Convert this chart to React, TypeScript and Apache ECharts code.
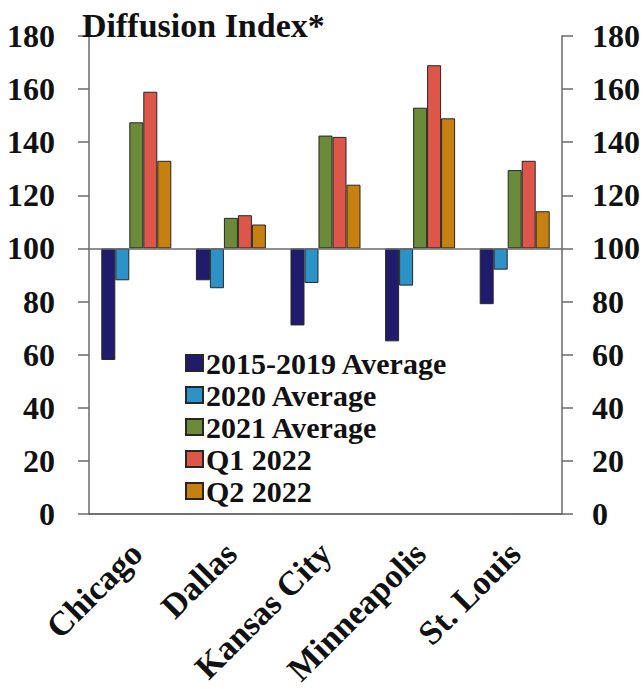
import React, { useEffect, useRef } from "react";
import * as echarts from "echarts";

const cities = ["Chicago", "Dallas", "Kansas City", "Minneapolis", "St. Louis"];
const seriesNames = ["2015-2019 Average", "2020 Average", "2021 Average", "Q1 2022", "Q2 2022"];
const avg2015_2019 = [58, 88, 71, 65, 79];
const avg2020 = [88, 85, 87, 86, 92];
const avg2021 = [147.5, 111.5, 142.5, 153, 129.5];
const q1_2022 = [159, 112.5, 142, 169, 133];
const q2_2022 = [133, 109, 124, 149, 114];
const yTicks = [0, 20, 40, 60, 80, 100, 120, 140, 160, 180];
const baseline = 100;

const colors = ["#201b6c", "#2b93c8", "#6b8b3a", "#dc574a", "#c5800f"];
const FONT = "Liberation Serif, serif";
const AXIS_COLOR = "#6a6a6a";

export default function App() {
  const ref = useRef<HTMLDivElement>(null);
  useEffect(() => {
    if (!ref.current) return;
    const chart = echarts.init(ref.current, undefined, { renderer: "svg" });
    const allSeries = [avg2015_2019, avg2020, avg2021, q1_2022, q2_2022];
    const series: any[] = [];
    allSeries.forEach((vals, i) => {
      const stack = "s" + i;
      series.push({
        name: "base" + i,
        type: "bar",
        stack,
        silent: true,
        itemStyle: { color: "transparent", borderWidth: 0 },
        data: vals.map((v) => (v < baseline ? v : baseline)),
      });
      const s: any = {
        name: seriesNames[i],
        type: "bar",
        stack,
        barCategoryGap: "26%",
        barGap: "0%",
        itemStyle: { color: colors[i], borderColor: "#262626", borderWidth: 1 },
        data: vals.map((v) => Math.abs(v - baseline)),
      };
      if (i === 0) {
        s.markLine = {
          silent: true,
          symbol: ["none", "none"],
          label: { show: false },
          lineStyle: { color: AXIS_COLOR, type: "solid", width: 1.5 },
          data: [{ yAxis: baseline }],
        };
      }
      series.push(s);
    });

    const yAxisCommon = {
      type: "value",
      min: yTicks[0],
      max: yTicks[yTicks.length - 1],
      interval: yTicks[1] - yTicks[0],
      splitLine: { show: false },
      axisLine: { show: true, lineStyle: { color: AXIS_COLOR, width: 1.5 } },
      axisTick: { show: true, inside: false, length: 11, lineStyle: { color: AXIS_COLOR, width: 1.5 } },
    };

    chart.setOption({
      animation: false,
      backgroundColor: "#ffffff",
      title: {
        text: "Diffusion Index*",
        left: 77,
        top: 3,
        textStyle: { fontFamily: FONT, fontWeight: "bold", fontSize: 34, color: "#111" },
      },
      legend: {
        data: seriesNames,
        orient: "vertical",
        left: 180,
        top: 343,
        icon: "rect",
        itemWidth: 17,
        itemHeight: 16,
        itemGap: 2,
        textStyle: { fontFamily: FONT, fontWeight: "bold", fontSize: 30, lineHeight: 30, color: "#111", padding: [0, 0, 0, -2] },
      },
      grid: { left: 89, right: 82, top: 36, bottom: 172, containLabel: false },
      xAxis: [
        {
          type: "category",
          data: cities,
          axisLine: { show: true, lineStyle: { color: AXIS_COLOR, width: 1.5 } },
          axisTick: { show: false },
          axisLabel: {
            rotate: 45,
            margin: 34,
            interval: 0,
            fontFamily: FONT,
            fontWeight: "bold",
            fontSize: 34,
            color: "#111",
          },
        },
        {
          type: "category",
          position: "top",
          data: cities,
          axisLine: { show: true, lineStyle: { color: AXIS_COLOR, width: 1.5 } },
          axisTick: { show: false },
          axisLabel: { show: false },
        },
      ],
      yAxis: [
        {
          ...yAxisCommon,
          position: "left",
          axisLabel: { margin: 34, fontFamily: FONT, fontWeight: "bold", fontSize: 32, color: "#111" },
        },
        {
          ...yAxisCommon,
          position: "right",
          axisLabel: { margin: 30, fontFamily: FONT, fontWeight: "bold", fontSize: 32, color: "#111" },
        },
      ],
      series,
    });
    return () => chart.dispose();
  }, []);
  return (
    <div
      ref={ref}
      style={{ position: "absolute", left: 0, top: 0, width: 644, height: 689, background: "#fff" }}
    />
  );
}
